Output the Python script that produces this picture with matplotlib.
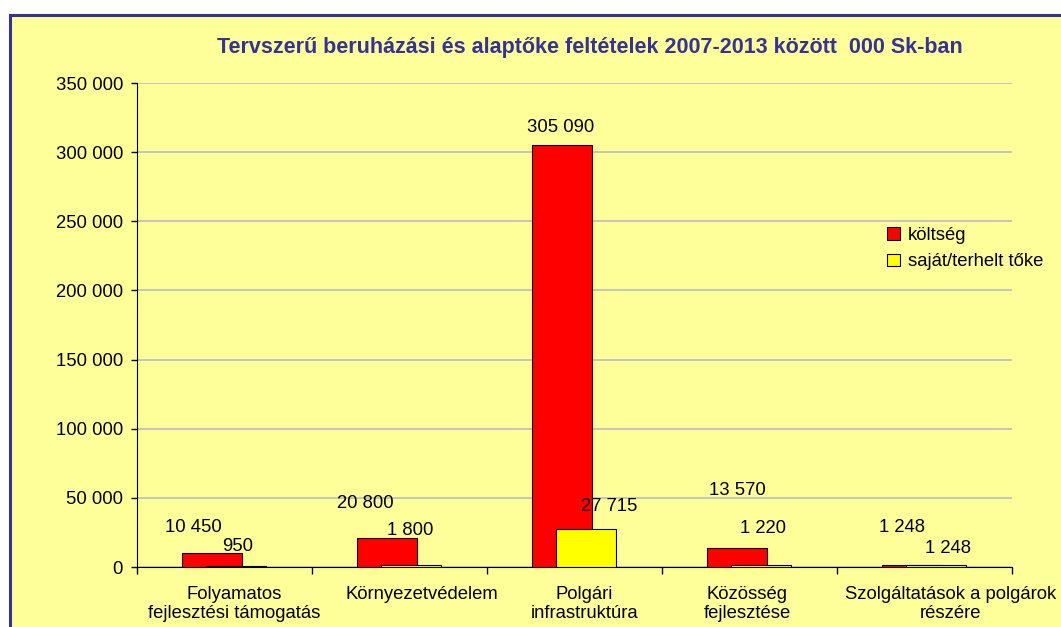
import numpy as np
import matplotlib.pyplot as plt
from matplotlib.patches import Rectangle
from matplotlib.ticker import FuncFormatter, FixedLocator
import matplotlib.transforms as mtransforms

plt.rcParams['font.family'] = ['Liberation Sans', 'DejaVu Sans']

categories = ['Folyamatos\nfejlesztési támogatás', 'Környezetvédelem',
              'Polgári\ninfrastruktúra', 'Közösség\nfejlesztése',
              'Szolgáltatások a polgárok\nrészére']
koltseg = [10450, 20800, 305090, 13570, 1248]
sajat = [950, 1800, 27715, 1220, 1248]

# label offsets (px) from the bar top, as Excel left them
red_off = [(-19, 25), (-22, 35), (-2, 18), (0, 58), (-10, 38)]
yel_off = [(2, 19), (0, 34), (24, 22), (2, 37), (12, 17)]
cat_shift = [10, 22, 10, -2, 26]

def fmt(v):
    return f"{int(v):,}".replace(',', ' ')

fig = plt.figure(figsize=(10.61, 6.27), dpi=100)
fig.patch.set_facecolor('white')
bg = Rectangle((9.5 / 1061, -0.05), 1.2, 1.05 - 14.5 / 627,
               transform=fig.transFigure, facecolor='#FFFF99',
               edgecolor='#333399', linewidth=2.2, zorder=-10)
fig.patches.append(bg)

ax = fig.add_axes([137 / 1061, 60 / 627, 875 / 1061, 484 / 627])
ax.set_facecolor('none')

x = np.arange(len(categories))
w = 0.343
b1 = ax.bar(x - 0.07, koltseg, w, color='#FF0000', edgecolor='black', lw=0.8,
            label='költség', zorder=3)
b2 = ax.bar(x + 0.063, sajat, w, color='#FFFF00', edgecolor='black', lw=0.8,
            label='saját/terhelt tőke', zorder=4)

for bars, vals, offs in [(b1, koltseg, red_off), (b2, sajat, yel_off)]:
    for r, v, (dx, dy) in zip(bars, vals, offs):
        ax.annotate(fmt(v), (r.get_x() + r.get_width() / 2, v),
                    xytext=(dx * 0.72, dy * 0.72), textcoords='offset points',
                    ha='center', va='center', fontsize=13.3, zorder=5)

ax.set_xlim(-0.5, len(categories) - 0.5)
ax.set_ylim(0, 350000)
ax.set_yticks(np.arange(0, 350001, 50000))
ax.yaxis.set_major_formatter(FuncFormatter(lambda v, p: fmt(v)))
ax.grid(axis='y', color='#C0C0C0', lw=1.3, zorder=0)
ax.set_axisbelow(True)

ax.set_xticks(x)
ax.set_xticklabels(categories, fontsize=13.3, linespacing=1.15)
ax.xaxis.set_minor_locator(FixedLocator(np.arange(-0.5, len(categories), 1)))
ax.tick_params(axis='x', which='major', length=0, pad=14)
ax.tick_params(axis='x', which='minor', length=5, direction='out', width=1)
ax.tick_params(axis='y', length=4, width=1, direction='out', pad=6, labelsize=13.3)
for lab, sh in zip(ax.get_xticklabels(), cat_shift):
    lab.set_transform(lab.get_transform() +
                      mtransforms.ScaledTranslation(sh / 100, 0, fig.dpi_scale_trans))

for s in ['top', 'right']:
    ax.spines[s].set_visible(False)
ax.spines['left'].set_color('black')
ax.spines['bottom'].set_color('black')

fig.text(590 / 1061, 1 - 47 / 627,
         'Tervszerű beruházási és alaptőke feltételek 2007-2013 között  000 Sk-ban',
         ha='center', va='center', fontsize=15.5, fontweight='bold', color='#333399')

ax.legend(loc='upper left', bbox_to_anchor=(878 / 1061, 1 - 218 / 627),
          bbox_transform=fig.transFigure, frameon=False, fontsize=13.3,
          handlelength=0.7, handleheight=0.7, handletextpad=0.4,
          labelspacing=0.5, borderpad=0)

fig.savefig('out.png', dpi=100)
